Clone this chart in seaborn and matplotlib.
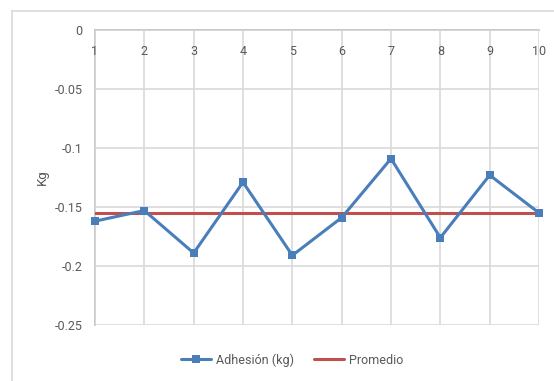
import matplotlib
matplotlib.use("Agg")
import matplotlib.pyplot as plt
from matplotlib.lines import Line2D
import seaborn as sns
import pandas as pd

# Measurements per sample
muestras = [1, 2, 3, 4, 5, 6, 7, 8, 9, 10]
adhesion = [-0.162, -0.153, -0.189, -0.129, -0.191, -0.159, -0.109, -0.176, -0.123, -0.155]
promedio = [-0.155, -0.155, -0.155, -0.155, -0.155, -0.155, -0.155, -0.155, -0.155, -0.155]
y_ticks = [0, -0.05, -0.1, -0.15, -0.2, -0.25]
y_tick_labels = ["0", "-0.05", "-0.1", "-0.15", "-0.2", "-0.25"]

df = pd.DataFrame({"Muestra": muestras, "Adhesión (kg)": adhesion, "Promedio": promedio})

sns.set_theme(style="white")
plt.rcParams["font.family"] = ["Roboto", "DejaVu Sans"]

TEXT = "#595959"
GRID = "#d9d9d9"
BLUE = "#4a7ebb"
RED = "#c0504d"

W, H = 554, 381
fig = plt.figure(figsize=(W / 100, H / 100), dpi=100)
fig.patch.set_facecolor("white")

# outer chart frame (top and left edges visible)
fig.add_artist(Line2D([12 / W, 1.0], [1 - 11 / H, 1 - 11 / H], color=GRID, lw=1.2, transform=fig.transFigure))
fig.add_artist(Line2D([12 / W, 12 / W], [0.0, 1 - 11 / H], color=GRID, lw=1.2, transform=fig.transFigure))

left, right, top, bottom = 95, 539, 30, 325
ax = fig.add_axes([left / W, 1 - bottom / H, (right - left) / W, (bottom - top) / H])

sns.lineplot(data=df, x="Muestra", y="Promedio", ax=ax, color=RED, lw=2.2, zorder=3)
sns.lineplot(data=df, x="Muestra", y="Adhesión (kg)", ax=ax, color=BLUE, lw=2.2,
             marker="s", markersize=6, markeredgewidth=0, zorder=4, clip_on=False)

ax.set_xlim(1, 10)
ax.set_ylim(-0.25, 0)
ax.set_xticks(muestras)
ax.set_xticklabels([str(m) for m in muestras])
ax.set_yticks(y_ticks)
ax.set_yticklabels(y_tick_labels)

ax.grid(True, color=GRID, lw=1.2)
ax.set_axisbelow(True)
for s in ["top", "right"]:
    ax.spines[s].set_visible(False)
ax.spines["bottom"].set_position(("data", 0))
for s in ["bottom", "left"]:
    ax.spines[s].set_color("#bfbfbf")
    ax.spines[s].set_linewidth(1.2)
    ax.spines[s].set_zorder(0.4)

ax.tick_params(axis="x", length=0, pad=11, labelsize=9, labelcolor=TEXT)
ax.tick_params(axis="y", length=0, pad=9, labelsize=9, labelcolor=TEXT)

ax.set_xlabel("")
ax.set_ylabel("")
fig.text(42 / W, 1 - 177 / H, "Kg", rotation=90, ha="center", va="center", fontsize=9.5, color=TEXT)

handles = [
    Line2D([], [], color=BLUE, lw=2.2, marker="s", markersize=6, markeredgewidth=0),
    Line2D([], [], color=RED, lw=2.2),
]
fig.legend(handles, ["Adhesión (kg)", "Promedio"], loc="center", bbox_to_anchor=(292 / W, 1 - 360 / H),
           ncol=2, frameon=False, fontsize=9, labelcolor=TEXT, handlelength=2.4,
           handletextpad=0.4, columnspacing=1.6)

fig.savefig("out.png", dpi=100, facecolor="white")
